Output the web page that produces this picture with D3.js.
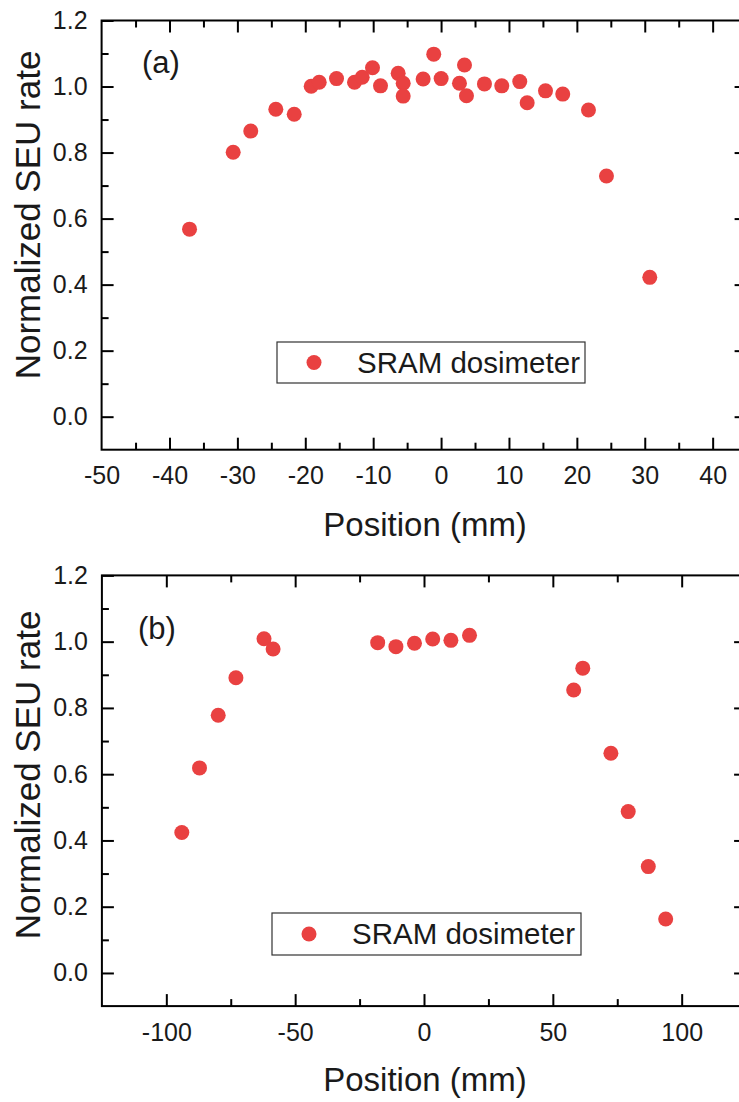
<!DOCTYPE html>
<html><head><meta charset="utf-8">
<script src="https://cdn.jsdelivr.net/npm/d3@7"></script>
<style>
body{margin:0;background:#fff;}
svg{display:block;}
text{font-family:"Liberation Sans",Arial,sans-serif;fill:#1a1a1a;}
</style></head><body>
<svg id="chart" width="739" height="1102"></svg>
<script>
// ---- data ----
const positionA = [-37.05,-30.62,-28.03,-24.34,-21.63,-19.13,-17.95,-15.40,-12.75,-11.62,-10.10,-8.92,-6.32,-5.58,-5.58,-2.64,-1.08,0.01,2.71,3.45,3.74,6.39,8.94,11.59,12.68,15.38,17.92,21.71,24.36,30.74];
const rateA     = [0.568,0.801,0.865,0.931,0.916,1.001,1.013,1.024,1.013,1.028,1.057,1.002,1.040,1.010,0.971,1.023,1.098,1.024,1.010,1.065,0.972,1.008,1.002,1.015,0.951,0.987,0.977,0.929,0.729,0.422];
const positionB = [-93.99,-87.12,-79.86,-72.99,-62.09,-58.56,-17.97,-10.90,-3.69,3.38,10.44,17.66,58.09,61.62,72.53,79.25,87.04,93.79];
const rateB     = [0.424,0.619,0.778,0.891,1.009,0.978,0.997,0.985,0.995,1.008,1.004,1.019,0.854,0.920,0.663,0.487,0.321,0.163];

const xMajorA = [-50,-40,-30,-20,-10,0,10,20,30,40];
const xMinorA = [-45,-35,-25,-15,-5,5,15,25,35];
const xMajorB = [-100,-50,0,50,100];
const xMinorB = [-75,-25,25,75];
const yMajor  = [0.0,0.2,0.4,0.6,0.8,1.0,1.2];
const yMinor  = [0.1,0.3,0.5,0.7,0.9,1.1];

const seriesName = "SRAM dosimeter";
const xTitle = "Position (mm)";
const yTitle = "Normalized SEU rate";
const RED = "#e94141";

const svg = d3.select("#chart");

function panel(cfg){
  const g = svg.append("g");
  const x = d3.scaleLinear().domain(cfg.xDomain).range(cfg.xRange);
  const y = d3.scaleLinear().domain([-0.1,1.2]).range(cfg.yRange);
  const yB = y(-0.1), yT = y(1.2), xL = x(cfg.xDomain[0]), xR = x(cfg.xDomain[1]);

  const style = sel => { sel.select(".domain").remove(); sel.selectAll("line").attr("stroke","#000").attr("stroke-width",2); };
  // bottom
  g.append("g").attr("transform",`translate(0,${yB})`)
    .call(d3.axisBottom(x).tickValues(cfg.xMajor.filter(v=>v!==cfg.xDomain[0])).tickSize(-12).tickFormat(""))
    .call(style);
  g.append("g").attr("transform",`translate(0,${yB})`)
    .call(d3.axisBottom(x).tickValues(cfg.xMinor).tickSize(-7).tickFormat(""))
    .call(style);
  g.append("g").attr("transform",`translate(0,${yB})`)
    .call(d3.axisBottom(x).tickValues(cfg.xMajor).tickSize(0).tickPadding(17).tickFormat(d=>String(d)))
    .call(style)
    .selectAll("text").attr("font-size",25).attr("fill","#1a1a1a");
  // top
  g.append("g").attr("transform",`translate(0,${yT})`)
    .call(d3.axisTop(x).tickValues(cfg.xMajor.filter(v=>v!==cfg.xDomain[0])).tickSize(-12).tickFormat(""))
    .call(style);
  g.append("g").attr("transform",`translate(0,${yT})`)
    .call(d3.axisTop(x).tickValues(cfg.xMinor).tickSize(-7).tickFormat(""))
    .call(style);
  // left
  g.append("g").attr("transform",`translate(${xL},0)`)
    .call(d3.axisLeft(y).tickValues(yMajor).tickSize(-12).tickPadding(14).tickFormat(d=>d.toFixed(1)))
    .call(style)
    .selectAll("text").attr("font-size",25).attr("fill","#1a1a1a");
  g.append("g").attr("transform",`translate(${xL},0)`)
    .call(d3.axisLeft(y).tickValues(yMinor).tickSize(-7).tickFormat(""))
    .call(style);
  // right
  g.append("g").attr("transform",`translate(${xR},0)`)
    .call(d3.axisRight(y).tickValues(yMajor.filter(v=>v<1.1)).tickSize(-12).tickFormat(""))
    .call(style);
  // frame
  g.append("rect").attr("x",xL).attr("y",yT).attr("width",xR-xL).attr("height",yB-yT)
    .attr("fill","none").attr("stroke","#000").attr("stroke-width",2);

  // points
  g.append("g").selectAll("circle").data(cfg.xs.map((v,i)=>[v,cfg.ys[i]])).join("circle")
    .attr("cx",d=>x(d[0])).attr("cy",d=>y(d[1])).attr("r",7.5).attr("fill",RED);

  // panel label
  g.append("text").attr("x",cfg.label[1]).attr("y",cfg.label[2]).attr("font-size",31).text(cfg.label[0]);

  // legend
  const L = cfg.legend;
  g.append("rect").attr("x",L.x).attr("y",L.y).attr("width",L.w).attr("height",L.h)
    .attr("fill","#fff").attr("stroke","#333").attr("stroke-width",1.2);
  g.append("circle").attr("cx",L.x+37).attr("cy",L.y+L.h/2).attr("r",7.5).attr("fill",RED);
  g.append("text").attr("x",L.x+80).attr("y",L.y+30.5).attr("font-size",29.5).text(seriesName);

  // axis titles
  g.append("text").attr("x",(xL+xR)/2+1).attr("y",cfg.xTitleY).attr("text-anchor","middle")
    .attr("font-size",33).text(xTitle);
  g.append("text").attr("transform",`translate(40,${cfg.yTitleC}) rotate(-90)`).attr("text-anchor","middle")
    .attr("font-size",35).text(yTitle);
}

panel({xDomain:[-50,45], xRange:[101.6,746.6], yRange:[449.7,20.5],
  xMajor:xMajorA, xMinor:xMinorA, xs:positionA, ys:rateA,
  label:["(a)",142,73], legend:{x:277,y:342,w:308,h:41},
  xTitleY:536, yTitleC:215});
panel({xDomain:[-125,125], xRange:[101.9,746.1], yRange:[1006.1,575.4],
  xMajor:xMajorB, xMinor:xMinorB, xs:positionB, ys:rateB,
  label:["(b)",138,639], legend:{x:272,y:913,w:309,h:42},
  xTitleY:1091, yTitleC:775});
</script>
</body></html>
